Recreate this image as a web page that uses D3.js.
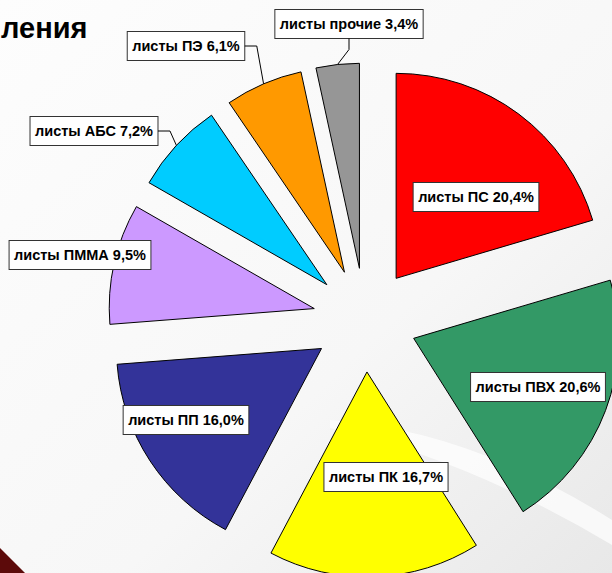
<!DOCTYPE html>
<html>
<head>
<meta charset="utf-8">
<script src="https://cdn.jsdelivr.net/npm/d3@7"></script>
<style>
  html, body { margin: 0; padding: 0; background: #fafafa; }
  svg { display: block; }
  .lbl text { font-family: "Liberation Sans", Arial, sans-serif; font-weight: bold; font-size: 14.5px; fill: #000; }
</style>
</head>
<body>
<div id="chart"></div>
<script>
// data
var categories = ["листы ПС", "листы ПВХ", "листы ПК", "листы ПП", "листы ПММА", "листы АБС", "листы ПЭ", "листы прочие"];
var values = [20.4, 20.6, 16.7, 16.0, 9.5, 7.2, 6.1, 3.4];
var valueLabels = ["20,4%", "20,6%", "16,7%", "16,0%", "9,5%", "7,2%", "6,1%", "3,4%"];
var colors = ["#ff0000", "#339966", "#ffff00", "#333399", "#cc99ff", "#00ccff", "#ff9900", "#969696"];

// label layout (box centres) and leader style
var labelSpots = [[476, 197], [538, 387], [386, 477], [186, 420], [80, 255], [94, 131], [186, 46], [349, 24]];
var leaderKind = [null, null, null, null, null, "right", "right", "bottom"];

var W = 612, H = 573;
var cx = 365, cy = 320, R = 205, explode = 52;

var svg = d3.select("#chart").append("svg")
  .attr("width", W).attr("height", H);

// background
var defs = svg.append("defs");
var bg = defs.append("linearGradient").attr("id", "bg")
  .attr("x1", "0").attr("y1", "0").attr("x2", "1").attr("y2", "1");
bg.append("stop").attr("offset", "0").attr("stop-color", "#fdfdfd");
bg.append("stop").attr("offset", "0.6").attr("stop-color", "#f7f7f7");
bg.append("stop").attr("offset", "1").attr("stop-color", "#e8e8e8");
svg.append("rect").attr("width", W).attr("height", H).attr("fill", "url(#bg)");
svg.append("path")
  .attr("d", "M330,420 Q470,430 612,520 L612,545 Q470,460 330,428 Z")
  .attr("fill", "#ffffff").attr("opacity", 0.7);

svg.append("path")
  .attr("d", "M0,548 L25,573 L0,573 Z")
  .attr("fill", "#5c0a0a");

svg.append("text")
  .attr("x", 1).attr("y", 38)
  .style("font-family", "'Liberation Sans', Arial, sans-serif")
  .style("font-weight", "bold")
  .style("font-size", "29px")
  .text("ления");

var pie = d3.pie().sort(null).value(function(d){ return d; });
var arcs = pie(values);
var arc = d3.arc().innerRadius(0).outerRadius(R);

function offset(d){
  var mid = (d.startAngle + d.endAngle) / 2;
  return [cx + explode * Math.sin(mid), cy - explode * Math.cos(mid)];
}

var g = svg.append("g");
g.selectAll("path.slice")
  .data(arcs)
  .enter().append("path")
  .attr("class", "slice")
  .attr("transform", function(d){ var p = offset(d); return "translate(" + p[0] + "," + p[1] + ")"; })
  .attr("d", arc)
  .attr("fill", function(d, i){ return colors[i]; })
  .attr("stroke", "#000")
  .attr("stroke-width", 1);

// labels
var lbl = svg.append("g").attr("class", "lbl");
arcs.forEach(function(d, i){
  var c = labelSpots[i];
  var grp = lbl.append("g");
  var rect = grp.append("rect");
  var t = grp.append("text")
    .attr("x", c[0]).attr("y", c[1])
    .attr("text-anchor", "middle")
    .attr("dy", "0.36em")
    .text(categories[i] + " " + valueLabels[i]);
  var w = t.node().getComputedTextLength() + 10;
  var h = 29;
  rect.attr("x", c[0] - w / 2).attr("y", c[1] - h / 2)
    .attr("width", w).attr("height", h)
    .attr("fill", "#fff").attr("stroke", "#333").attr("stroke-width", 1);

  if(leaderKind[i]){
    var o = offset(d);
    var mid = (d.startAngle + d.endAngle) / 2;
    var ex = o[0] + R * Math.sin(mid), ey = o[1] - R * Math.cos(mid);
    var pts;
    if(leaderKind[i] == "right"){
      var sx = c[0] + w / 2;
      pts = [[sx, c[1]], [sx + 12, c[1]], [ex, ey]];
    }else{
      var sy = c[1] + h / 2;
      pts = [[c[0], sy], [c[0], sy + 11], [ex, ey]];
    }
    svg.append("path")
      .attr("d", d3.line()(pts))
      .attr("fill", "none").attr("stroke", "#000").attr("stroke-width", 1);
  }
});
</script>
</body>
</html>
